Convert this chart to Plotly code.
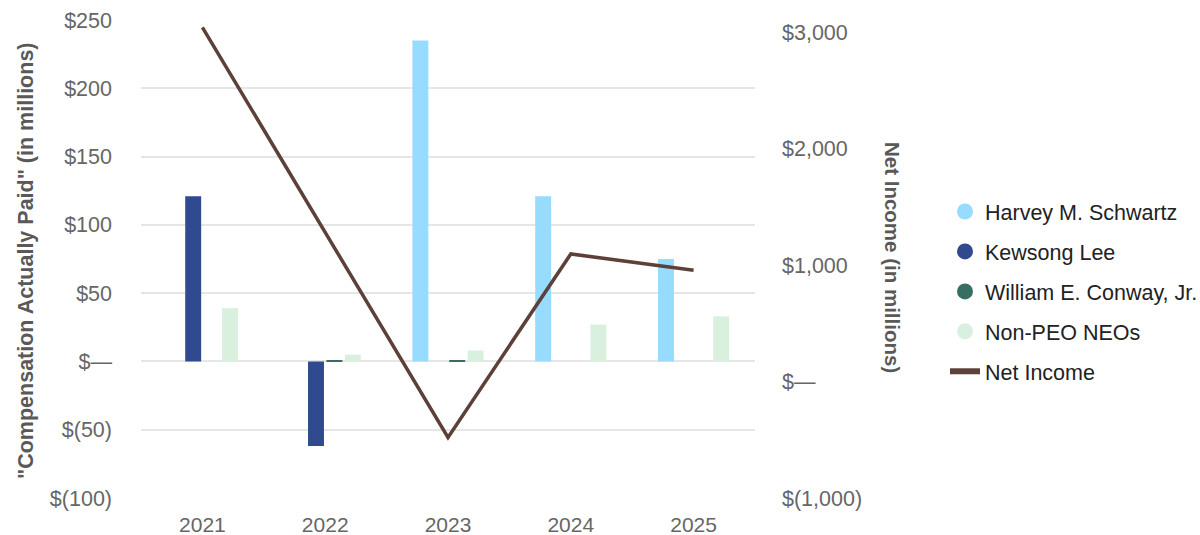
import plotly.graph_objects as go

years = ["2021", "2022", "2023", "2024", "2025"]
harvey = [None, None, 235, 121, 75]
kewsong = [121, -62, None, None, None]
william = [None, 1, 1, None, None]
non_peo = [39, 5, 8, 27, 33]
net_income = [3040, 1285, -480, 1095, 955]

left_ticks = [-100, -50, 0, 50, 100, 150, 200, 250]
left_text = ["$(100)", "$(50)", "$\u2014", "$50", "$100", "$150", "$200", "$250"]
right_ticks = [-1000, 0, 1000, 2000, 3000]
right_text = ["$(1,000)", "$\u2014", "$1,000", "$2,000", "$3,000"]

names = ["Harvey M. Schwartz", "Kewsong Lee", "William E. Conway, Jr.", "Non-PEO NEOs"]
colors = ["#97DBFF", "#2F4A8F", "#386D64", "#DAF0DF"]
line_color = "#5D4037"
FONT = "Arial, Liberation Sans, sans-serif"

fig = go.Figure()
for vals, nm, col in zip([harvey, kewsong, william, non_peo], names, colors):
    fig.add_trace(go.Bar(x=years, y=vals, name=nm, marker=dict(color=col, line=dict(width=0)),
                         showlegend=False, yaxis="y"))

fig.add_trace(go.Scatter(x=years, y=net_income, mode="lines", name="Net Income",
                         line=dict(color=line_color, width=3.5), yaxis="y2", showlegend=False))

# legend entries
for i, (nm, col) in enumerate(zip(names, colors)):
    fig.add_trace(go.Scatter(x=[None], y=[None], mode="markers", name=nm,
                             marker=dict(color=col, size=20, symbol="circle"),
                             legendgroup=f"g{i}", showlegend=True))
fig.add_trace(go.Scatter(x=[None], y=[None], mode="lines", name="Net Income",
                         line=dict(color=line_color, width=6),
                         legendgroup="g5", showlegend=True))

fig.update_layout(
    width=1200, height=535,
    margin=dict(l=141, r=445, t=20, b=37, autoexpand=False),
    paper_bgcolor="white", plot_bgcolor="white",
    font=dict(family=FONT, size=21, color="#666666"),
    barmode="group", bargap=0.4, bargroupgap=0.135,
    xaxis=dict(type="category", showgrid=False, zeroline=False, showline=False,
               ticks="", tickfont=dict(size=21, color="#666666"), ticklabelstandoff=12,
               automargin=False),
    yaxis=dict(range=[-100, 250], tickvals=left_ticks, ticktext=left_text,
               showgrid=True, gridcolor="#E6E6E6", gridwidth=1.6, zeroline=False,
               showline=False, ticks="", tickfont=dict(size=21.5, color="#666666"),
               ticklabelstandoff=28, automargin=False),
    yaxis2=dict(range=[-1000, 3103], tickvals=right_ticks, ticktext=right_text,
                overlaying="y", side="right", showgrid=False, zeroline=False,
                showline=False, ticks="", tickfont=dict(size=21.5, color="#666666"),
                ticklabelstandoff=26, automargin=False),
    legend=dict(x=(945 - 141) / 614, xanchor="left", y=(498 - 291.5) / 478, yanchor="middle",
                traceorder="grouped", tracegroupgap=9,
                font=dict(family=FONT, size=21.5, color="#222222"),
                bgcolor="rgba(0,0,0,0)", itemsizing="trace"),
    annotations=[
        dict(text='<b>"Compensation Actually Paid" (in millions)</b>', textangle=-90,
             xref="paper", yref="paper", x=(26 - 141) / 614, y=(498 - 261) / 478,
             xanchor="center", yanchor="middle", showarrow=False,
             font=dict(family=FONT, size=21.5, color="#595959")),
        dict(text="<b>Net Income (in millions)</b>", textangle=90,
             xref="paper", yref="paper", x=(893 - 141) / 614, y=(498 - 257) / 478,
             xanchor="center", yanchor="middle", showarrow=False,
             font=dict(family=FONT, size=20.5, color="#595959")),
    ],
)

fig.write_html("out.html", config={"displayModeBar": False},
               post_script="document.body.style.margin='0';document.body.style.overflow='hidden';")
